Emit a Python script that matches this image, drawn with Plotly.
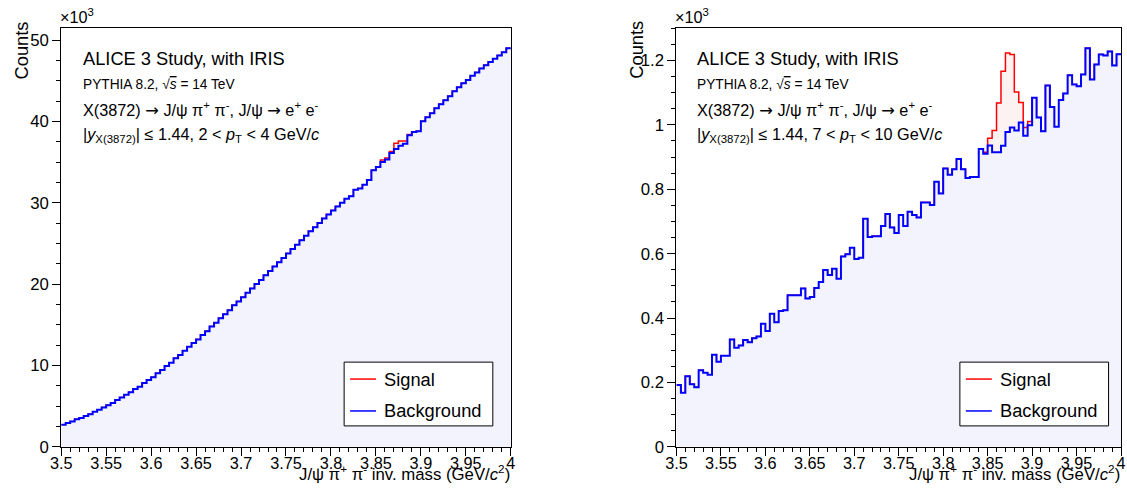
import numpy as np
import plotly.graph_objects as go

# ---------------- data ----------------
# histogram binning: 100 bins between 3.5 and 4.0 GeV/c^2
mass_min, mass_max, n_bins = 3.5, 4.0, 100

# left panel (2 < pT < 4 GeV/c), counts in units of 10^3
bkg_left = [
    2.70, 2.92, 3.10, 3.38, 3.55, 3.80, 4.02, 4.30, 4.55, 4.85,
    5.10, 5.38, 5.75, 6.05, 6.40, 6.70, 7.12, 7.40, 7.85, 8.20,
    8.55, 9.05, 9.45, 9.95, 10.35, 10.90, 11.30, 11.80, 12.30, 12.75,
    13.20, 13.75, 14.20, 14.80, 15.25, 15.80, 16.30, 16.80, 17.40, 17.85,
    18.40, 18.95, 19.45, 20.00, 20.50, 21.10, 21.60, 22.15, 22.70, 23.20,
    23.75, 24.30, 24.85, 25.40, 25.95, 26.50, 27.00, 27.50, 28.05, 28.55,
    29.05, 29.55, 30.00, 30.50, 30.80, 31.60, 31.75, 32.20, 32.80, 34.00,
    34.40, 35.00, 35.30, 36.10, 36.60, 37.00, 37.25, 38.30, 38.70, 38.80,
    40.00, 40.50, 41.00, 41.60, 42.10, 42.60, 43.10, 43.70, 44.20, 44.70,
    45.10, 45.60, 46.00, 46.50, 46.90, 47.30, 47.70, 48.10, 48.50, 49.00,
]
sig_bins_left = [71, 72, 73, 74, 75, 76, 77]
sig_vals_left = [0.25, 0.20, 0.20, 0.70, 0.60, 0.35, 0.10]

# right panel (7 < pT < 10 GeV/c), counts in units of 10^3
bkg_right = [
    0.192, 0.168, 0.219, 0.194, 0.185, 0.238, 0.230, 0.224, 0.286, 0.264,
    0.283, 0.283, 0.333, 0.308, 0.315, 0.332, 0.325, 0.337, 0.343, 0.382,
    0.360, 0.413, 0.387, 0.422, 0.424, 0.471, 0.471, 0.471, 0.492, 0.461,
    0.465, 0.493, 0.512, 0.549, 0.534, 0.553, 0.522, 0.591, 0.598, 0.618,
    0.583, 0.587, 0.708, 0.652, 0.654, 0.654, 0.686, 0.723, 0.681, 0.664,
    0.720, 0.686, 0.730, 0.720, 0.712, 0.759, 0.759, 0.751, 0.823, 0.787,
    0.864, 0.845, 0.862, 0.894, 0.862, 0.835, 0.838, 0.838, 0.925, 0.910,
    0.936, 0.915, 0.915, 0.935, 0.978, 0.992, 0.982, 1.007, 0.966, 0.999,
    1.084, 1.023, 0.980, 1.122, 1.055, 0.994, 1.077, 1.097, 1.154, 1.125,
    1.120, 1.156, 1.238, 1.141, 1.187, 1.218, 1.215, 1.228, 1.184, 1.219,
]
sig_bins_right = [69, 70, 71, 72, 73, 74, 75, 76, 77, 78, 79]
sig_vals_right = [0.005, 0.022, 0.067, 0.153, 0.231, 0.245, 0.226, 0.120, 0.062, 0.026, 0.011]

x_tick_vals = [3.5, 3.55, 3.6, 3.65, 3.7, 3.75, 3.8, 3.85, 3.9, 3.95, 4.0]
x_tick_text = ["3.5", "3.55", "3.6", "3.65", "3.7", "3.75", "3.8", "3.85", "3.9", "3.95", "4"]

ARROW = "<span style='font-family:DejaVu Sans'>→</span>"
titles_left = [
    "ALICE 3 Study, with IRIS",
    "PYTHIA 8.2, √<span style='text-decoration:overline'><i>s</i></span> = 14 TeV",
    "X(3872) " + ARROW + " J/ψ π<sup>+</sup> π<sup>-</sup>, J/ψ " + ARROW + " e<sup>+</sup> e<sup>-</sup>",
    "|<i>y</i><sub>X(3872)</sub>| ≤ 1.44, 2 &lt; <i>p</i><sub>T</sub> &lt; 4 GeV/<i>c</i>",
]
titles_right = titles_left[:3] + [
    "|<i>y</i><sub>X(3872)</sub>| ≤ 1.44, 7 &lt; <i>p</i><sub>T</sub> &lt; 10 GeV/<i>c</i>",
]
legend_labels = ["Signal", "Background"]
x_title = "J/ψ π<sup>+</sup> π<sup>-</sup> inv. mass (GeV/<i>c</i><sup>2</sup>)"
y_title = "Counts"

# ---------------- build ----------------
FONT = "Liberation Sans, Arial, Helvetica, sans-serif"
W, H = 1127, 495
# the page is shown slightly reduced; map wanted screen pixels to figure pixels
SX, OX = 0.9878, 9.2
SY, OY = 0.983, -0.3
FS = 1.0 / 0.985


def fx(t):
    return (t - OX) / SX


def fy(t):
    return (t - OY) / SY


def px(t):
    return fx(t) / W


def py(t):
    return 1 - fy(t) / H


def fsz(s):
    return round(s * FS, 2)


edges = np.linspace(mass_min, mass_max, n_bins + 1)


def step_xy(vals):
    return list(edges), list(vals) + [vals[-1]]


def total(bkg, bins, vals):
    t = list(bkg)
    for b, v in zip(bins, vals):
        t[b] = t[b] + v
    return t


fig = go.Figure()
panels = [
    dict(bkg=bkg_left, sig=total(bkg_left, sig_bins_left, sig_vals_left), xa="x", ya="y"),
    dict(bkg=bkg_right, sig=total(bkg_right, sig_bins_right, sig_vals_right), xa="x2", ya="y2"),
]
for p in panels:
    xs, ys = step_xy(p["sig"])
    fig.add_trace(go.Scatter(x=xs, y=ys, mode="lines", line=dict(shape="hv", color="#ff0000", width=1.5),
                             fill="tozeroy", fillcolor="#fdf2f2", xaxis=p["xa"], yaxis=p["ya"],
                             name="Signal", showlegend=False))
    xb, yb = step_xy(p["bkg"])
    fig.add_trace(go.Scatter(x=xb, y=yb, mode="lines", line=dict(shape="hv", color="#0000ff", width=2),
                             fill="tozeroy", fillcolor="#f3f3fd", xaxis=p["xa"], yaxis=p["ya"],
                             name="Background", showlegend=False))

# wanted screen geometry (pixels, origin top-left)
left_x0, left_x1 = 59.5, 510
right_x0 = 676
y_top, y_bot = 28, 448
right_dom_end = 1126.0 / W  # right frame at the figure's right edge

TICK = fsz(16)
xaxis_common = dict(
    range=[mass_min, mass_max], tickmode="array", tickvals=x_tick_vals, ticktext=x_tick_text,
    ticks="outside", ticklen=8, tickwidth=1, tickcolor="black", ticklabelstandoff=-6,
    minor=dict(tick0=3.5, dtick=0.01, ticks="outside", ticklen=4, tickwidth=1, tickcolor="black"),
    showline=True, linecolor="black", linewidth=1, mirror=True, showgrid=False, zeroline=False,
    tickfont=dict(family=FONT, size=TICK, color="black"),
)
yaxis_common = dict(
    ticks="outside", ticklen=8, tickwidth=1, tickcolor="black",
    showline=True, linecolor="black", linewidth=1, mirror=True, showgrid=False, zeroline=False,
    tickfont=dict(family=FONT, size=fsz(16.5), color="black"),
)

fig.update_layout(
    width=W, height=H, margin=dict(l=0, r=0, t=0, b=0),
    paper_bgcolor="white", plot_bgcolor="white", showlegend=False,
    xaxis=dict(domain=[px(left_x0), px(left_x1)], anchor="y", **xaxis_common),
    xaxis2=dict(domain=[px(right_x0), right_dom_end], anchor="y2", **xaxis_common),
    yaxis=dict(domain=[py(y_bot), py(y_top)], anchor="x", range=[0, 51.45], tick0=0, dtick=10,
               minor=dict(tick0=0, dtick=2.5, ticks="outside", ticklen=4, tickcolor="black"), **yaxis_common),
    yaxis2=dict(domain=[py(y_bot), py(y_top)], anchor="x2", range=[0, 1.30], tick0=0, dtick=0.2,
                minor=dict(tick0=0, dtick=0.05, ticks="outside", ticklen=4, tickcolor="black"), **yaxis_common),
)

ann = []
shapes = []
text_sizes = [18, 13.5, 16, 16]
text_ys = [58, 84, 110, 135]
for x0, titles, frame_x0, xt_right, leg_x0 in [
    (79, titles_left, left_x0, px(left_x1), 343),
    (695, titles_right, right_x0, right_dom_end, 960),
]:
    for t, s, yy in zip(titles, text_sizes, text_ys):
        ann.append(dict(text=t, x=px(x0), y=py(yy), xref="paper", yref="paper", xanchor="left",
                        yanchor="middle", showarrow=False, font=dict(family=FONT, size=fsz(s), color="black")))
    ann.append(dict(text="×10<sup>3</sup>", x=px(frame_x0 - 3), y=py(16), xref="paper", yref="paper",
                    xanchor="left", yanchor="middle", showarrow=False,
                    font=dict(family=FONT, size=fsz(16), color="black")))
    ann.append(dict(text=y_title, x=px(frame_x0 - 40), y=py(50), xref="paper", yref="paper",
                    xanchor="center", yanchor="middle", textangle=-90, showarrow=False,
                    font=dict(family=FONT, size=fsz(18), color="black")))
    ann.append(dict(text=x_title, x=xt_right, y=0, xref="paper", yref="paper",
                    xanchor="right", yanchor="bottom", showarrow=False, borderpad=0,
                    font=dict(family=FONT, size=fsz(16.5), color="black")))
    shapes.append(dict(type="rect", xref="paper", yref="paper", x0=px(leg_x0), x1=px(leg_x0 + 149),
                       y0=py(427), y1=py(363), line=dict(color="black", width=1), fillcolor="white",
                       layer="above"))
    for lab, col, yy in [(legend_labels[0], "#ff0000", 380), (legend_labels[1], "#0000ff", 412)]:
        shapes.append(dict(type="line", xref="paper", yref="paper", x0=px(leg_x0 + 6), x1=px(leg_x0 + 32),
                           y0=py(yy), y1=py(yy), line=dict(color=col, width=1.5), layer="above"))
        ann.append(dict(text=lab, x=px(leg_x0 + 38), y=py(yy), xref="paper", yref="paper",
                        xanchor="left", yanchor="middle", showarrow=False,
                        font=dict(family=FONT, size=fsz(18), color="black")))

fig.update_layout(annotations=ann, shapes=shapes)
fig.write_html("out.html")
